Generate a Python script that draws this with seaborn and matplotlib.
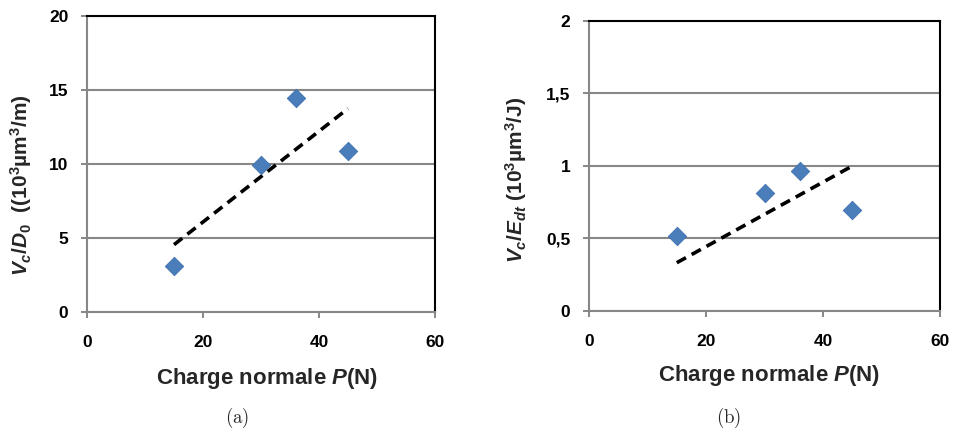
import numpy as np
import pandas as pd
import seaborn as sns
import matplotlib.pyplot as plt

# charge normale P (N)
charge = [15, 30, 36, 45]
# (a) Vc/D0 (10^3 um^3/m)
vc_d0 = [3.1, 9.95, 14.45, 10.85]
# (b) Vc/Edt (10^3 um^3/J)
vc_edt = [0.515, 0.815, 0.965, 0.695]

# dashed trend lines, end points
trend_x = [15, 45]
trend_a = [4.55, 13.75]
trend_b = [0.333, 1.0]

x_ticks = [0, 20, 40, 60]
y_ticks_a = [0, 5, 10, 15, 20]
y_ticks_b = [0, 0.5, 1, 1.5, 2]
y_labels_b = ["0", "0,5", "1", "1,5", "2"]

sns.set_theme(style="white")
plt.rcParams["font.family"] = ["Liberation Sans", "DejaVu Sans"]
plt.rcParams["font.weight"] = "bold"
plt.rcParams["mathtext.fontset"] = "custom"
plt.rcParams["mathtext.rm"] = "Liberation Sans:bold"
plt.rcParams["mathtext.bf"] = "Liberation Sans:bold"
plt.rcParams["mathtext.it"] = "Liberation Sans:italic:bold"

GRID = "#878787"
BLUE = "#4a7ebb"

fig = plt.figure(figsize=(9.55, 4.32), dpi=100)
ax_a = fig.add_axes([0.0911, 0.2778, 0.3644, 0.685])
ax_b = fig.add_axes([0.6168, 0.2801, 0.3675, 0.6713])


def style_axes(ax, y_ticks, y_labels, ylim):
    ax.set_xlim(0, 60)
    ax.set_ylim(*ylim)
    ax.set_xticks(x_ticks)
    ax.set_xticklabels([str(t) for t in x_ticks], fontweight="bold", fontsize=12.5)
    ax.set_yticks(y_ticks)
    ax.set_yticklabels(y_labels, fontweight="bold", fontsize=12.5)
    ax.tick_params(axis="both", direction="out", length=4.5, width=1.4,
                   color=GRID, pad=9, labelcolor="black")
    ax.tick_params(axis="x", bottom=True, pad=12)
    ax.tick_params(axis="y", left=True)
    ax.yaxis.grid(True, color=GRID, linewidth=1.5)
    ax.xaxis.grid(False)
    ax.set_axisbelow(True)
    for side in ["left", "bottom"]:
        ax.spines[side].set_color(GRID)
        ax.spines[side].set_linewidth(1.5)
    for side in ["top", "right"]:
        ax.spines[side].set_color("black")
        ax.spines[side].set_linewidth(1.5)


def draw_panel(ax, y, trend):
    df = pd.DataFrame({"P": charge, "V": y})
    tr = pd.DataFrame({"P": trend_x, "V": trend})
    line = sns.lineplot(data=tr, x="P", y="V", ax=ax, color="black",
                        linewidth=2.6, zorder=3)
    line.lines[-1].set_dashes((2.9, 1.8))
    line.lines[-1].set_dash_capstyle("butt")
    sns.scatterplot(data=df, x="P", y="V", ax=ax, marker="D", s=88,
                    color=BLUE, edgecolor="#3d6fae", linewidth=0.6, zorder=4)


draw_panel(ax_a, vc_d0, trend_a)
style_axes(ax_a, y_ticks_a, [str(t) for t in y_ticks_a], (0, 20))
draw_panel(ax_b, vc_edt, trend_b)
style_axes(ax_b, y_ticks_b, y_labels_b, (0, 2))

xlabel = r"Charge normale $P$(N)"
ax_a.set_xlabel(xlabel, fontsize=16, fontweight="bold")
ax_b.set_xlabel(xlabel, fontsize=16, fontweight="bold")
ax_a.xaxis.set_label_coords(0.517, -0.182)
ax_b.xaxis.set_label_coords(0.513, -0.179)

ax_a.set_ylabel(r"$V_c/D_0$  ((10$^3$µm$^3$/m)", fontsize=15, fontweight="bold")
ax_b.set_ylabel(r"$V_c/E_{dt}$ (10$^3$µm$^3$/J)", fontsize=15, fontweight="bold")
ax_a.yaxis.set_label_coords(-0.152, 0.43)
ax_b.yaxis.set_label_coords(-0.171, 0.452)

fig.text(237 / 955, 1 - 418 / 432, r"$\mathrm{(a)}$", ha="center", va="center",
         fontsize=13.5, math_fontfamily="cm")
fig.text(729 / 955, 1 - 418 / 432, r"$\mathrm{(b)}$", ha="center", va="center",
         fontsize=13.5, math_fontfamily="cm")

fig.savefig("out.png", dpi=100)
